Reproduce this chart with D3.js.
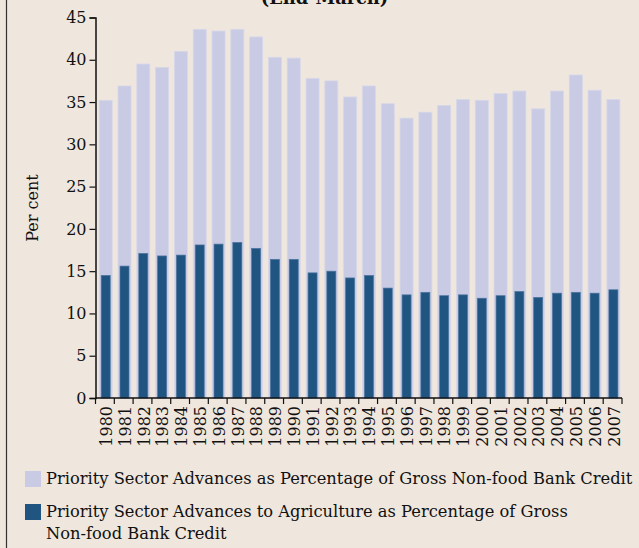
<!DOCTYPE html>
<html>
<head>
<meta charset="utf-8">
<script src="https://cdn.jsdelivr.net/npm/d3@7"></script>
<style>
  html, body { margin: 0; padding: 0; background: #efe6dd; }
  svg { display: block; }
</style>
</head>
<body>
<div id="chart"></div>
<script>
(function() {
	var years = ["1980","1981","1982","1983","1984","1985","1986","1987","1988","1989",
		"1990","1991","1992","1993","1994","1995","1996","1997","1998","1999",
		"2000","2001","2002","2003","2004","2005","2006","2007"];

	// priority sector advances, % of gross non-food bank credit
	var priority = [35.2, 36.9, 39.5, 39.1, 41.0, 43.6, 43.4, 43.6, 42.7, 40.3,
		40.2, 37.8, 37.5, 35.6, 36.9, 34.8, 33.1, 33.8, 34.6, 35.3,
		35.2, 36.0, 36.3, 34.2, 36.3, 38.2, 36.4, 35.3];

	// of which agriculture
	var agriculture = [14.5, 15.6, 17.1, 16.8, 16.9, 18.1, 18.2, 18.4, 17.7, 16.4,
		16.4, 14.8, 15.0, 14.2, 14.5, 13.0, 12.2, 12.5, 12.1, 12.2,
		11.8, 12.1, 12.6, 11.9, 12.4, 12.5, 12.4, 12.8];

	var yTicks = [0, 5, 10, 15, 20, 25, 30, 35, 40, 45];

	var legendLabels = [
		["Priority Sector Advances as Percentage of Gross Non-food Bank Credit"],
		["Priority Sector Advances to Agriculture as Percentage of Gross", "Non-food Bank Credit"]
	];

	var width = 639, height = 548;
	var font = "'DejaVu Serif', serif";

	var svg = d3.select("#chart")
		.append("svg")
		.attr("width", width)
		.attr("height", height);

	svg.append("rect")
		.attr("width", width)
		.attr("height", height)
		.attr("fill", "#efe6dd");

	// left frame line
	svg.append("line")
		.attr("x1", 6.5).attr("x2", 6.5)
		.attr("y1", 0).attr("y2", height)
		.attr("stroke", "#333")
		.attr("stroke-width", 1.2);

	// title, cut at top like the source
	svg.append("text")
		.attr("x", 324.5)
		.attr("y", 4)
		.attr("text-anchor", "middle")
		.attr("font-family", font)
		.attr("font-weight", "bold")
		.attr("font-size", 17.8)
		.attr("fill", "#111")
		.text("(End-March)");

	var xScale = d3.scaleBand()
		.domain(years)
		.range([95.5, 622])
		.paddingInner(0)
		.paddingOuter(0);

	var yScale = d3.scaleLinear()
		.domain([0, 45])
		.range([398, 17.5]);

	var step = xScale.step();
	var lightW = 13, darkW = 9;

	// light bars
	svg.selectAll("rect.total")
		.data(priority)
		.enter()
		.append("rect")
		.attr("class", "total")
		.attr("x", function(d, i) { return xScale(years[i]) + step / 2 - lightW / 2 + 0.8; })
		.attr("width", lightW)
		.attr("y", function(d) { return yScale(d); })
		.attr("height", function(d) { return yScale(0) - yScale(d); })
		.attr("fill", "#c9cbe5")
		.attr("stroke", "#d6d7ea")
		.attr("stroke-width", 0.8);

	// dark bars
	svg.selectAll("rect.agri")
		.data(agriculture)
		.enter()
		.append("rect")
		.attr("class", "agri")
		.attr("x", function(d, i) { return xScale(years[i]) + step / 2 - darkW / 2 + 0.8; })
		.attr("width", darkW)
		.attr("y", function(d) { return yScale(d); })
		.attr("height", function(d) { return yScale(0) - yScale(d); })
		.attr("fill", "#1f5580")
		.attr("stroke", "#4f76a0")
		.attr("stroke-width", 0.7);

	// y axis
	var yAxis = svg.append("g")
		.attr("transform", "translate(95.5,0)")
		.call(d3.axisLeft(yScale).tickValues(yTicks).tickSize(6).tickPadding(3));

	yAxis.select(".domain").attr("stroke", "#111").attr("stroke-width", 1.5);
	yAxis.selectAll(".tick line").attr("stroke", "#111").attr("stroke-width", 1.2);
	yAxis.selectAll(".tick text")
		.attr("font-family", font)
		.attr("font-size", 16)
		.attr("fill", "#111");

	// x axis line + ticks at the band edges
	svg.append("line")
		.attr("x1", 95.5).attr("x2", 622)
		.attr("y1", 398).attr("y2", 398)
		.attr("stroke", "#111")
		.attr("stroke-width", 1.5);

	var edges = years.map(function(y) { return xScale(y); }).concat([xScale.range()[1]]);
	svg.selectAll("line.xtick")
		.data(edges)
		.enter()
		.append("line")
		.attr("class", "xtick")
		.attr("x1", function(d) { return d; })
		.attr("x2", function(d) { return d; })
		.attr("y1", 398)
		.attr("y2", 404)
		.attr("stroke", "#111")
		.attr("stroke-width", 1.2);

	svg.selectAll("text.year")
		.data(years)
		.enter()
		.append("text")
		.attr("class", "year")
		.attr("transform", function(d) {
			return "translate(" + (xScale(d) + step / 2 + 1.5) + ",404) rotate(-90)";
		})
		.attr("x", -2)
		.attr("dy", "0.35em")
		.attr("text-anchor", "end")
		.attr("font-family", font)
		.attr("font-size", 16)
		.attr("fill", "#111")
		.text(function(d) { return d; });

	// y title
	svg.append("text")
		.attr("transform", "translate(38,208) rotate(-90)")
		.attr("text-anchor", "middle")
		.attr("font-family", font)
		.attr("font-size", 16)
		.attr("fill", "#111")
		.text("Per cent");

	// legend
	var legendColors = ["#c9cbe5", "#1f5580"];
	var legendY = [471, 504];

	legendLabels.forEach(function(lines, i) {
		svg.append("rect")
			.attr("x", 25)
			.attr("y", legendY[i])
			.attr("width", 16)
			.attr("height", 16)
			.attr("fill", legendColors[i]);
		lines.forEach(function(t, j) {
			svg.append("text")
				.attr("x", 46)
				.attr("y", legendY[i] + 13 + j * 22)
				.attr("font-family", font)
				.attr("font-size", 16.3)
				.attr("fill", "#111")
				.text(t);
		});
	});
})();
</script>
</body>
</html>
